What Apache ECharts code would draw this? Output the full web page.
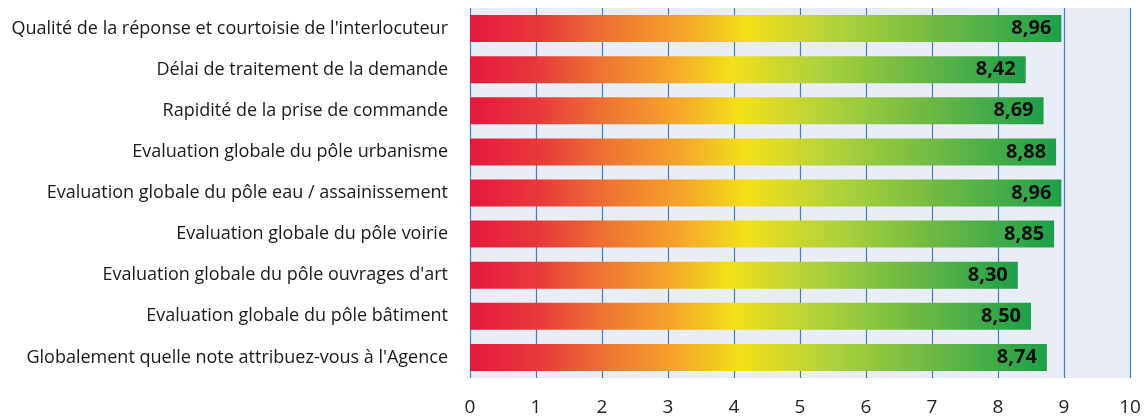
<!DOCTYPE html>
<html>
<head>
<meta charset="utf-8">
<script src="https://cdn.jsdelivr.net/npm/echarts@6/dist/echarts.min.js"></script>
<style>
  html, body { margin: 0; padding: 0; background: #fff; }
  #chart { width: 1145px; height: 418px; }
</style>
</head>
<body>
<div id="chart"></div>
<script>
// criteres, de haut en bas
const categories = [
  "Qualité de la réponse et courtoisie de l'interlocuteur",
  'Délai de traitement de la demande',
  'Rapidité de la prise de commande',
  'Evaluation globale du pôle urbanisme',
  'Evaluation globale du pôle eau / assainissement',
  'Evaluation globale du pôle voirie',
  "Evaluation globale du pôle ouvrages d'art",
  'Evaluation globale du pôle bâtiment',
  "Globalement quelle note attribuez-vous à l'Agence"
]
const notes = [8.96, 8.42, 8.69, 8.88, 8.96, 8.85, 8.30, 8.50, 8.74]

const axisMin = 0
const axisMax = 10
const axisStep = 1

// degrade rouge -> vert
const barGradient = new echarts.graphic.LinearGradient(0, 0, 1, 0, [
  { offset: 0, color: '#e5173f' },
  { offset: 0.12, color: '#e8393a' },
  { offset: 0.25, color: '#ef7a33' },
  { offset: 0.36, color: '#f5a52a' },
  { offset: 0.47, color: '#f4e01b' },
  { offset: 0.62, color: '#b2d23a' },
  { offset: 0.8, color: '#6cb944' },
  { offset: 1, color: '#1e9f4a' }
])

let chart = echarts.init(document.getElementById('chart'))

let options = {
  animation: false,
  grid: {
    left: 470,
    right: 15,
    top: 8,
    bottom: 40,
    show: true,
    backgroundColor: '#e9edf6',
    borderWidth: 0
  },
  xAxis: {
    type: 'value',
    min: axisMin,
    max: axisMax,
    interval: axisStep,
    axisLine: { show: false },
    axisTick: { show: false },
    axisLabel: {
      margin: 20,
      color: '#222',
      fontSize: 19,
      fontFamily: 'Open Sans'
    },
    splitLine: {
      lineStyle: { color: '#3f7fc8', width: 1.2 }
    }
  },
  yAxis: {
    type: 'category',
    inverse: true,
    data: categories,
    axisLine: { show: false },
    axisTick: { show: false },
    axisLabel: {
      margin: 22,
      color: '#1a1a1a',
      fontSize: 18,
      fontFamily: 'Open Sans'
    }
  },
  series: [
    {
      type: 'bar',
      data: notes,
      barWidth: 27,
      itemStyle: { color: barGradient },
      label: {
        show: true,
        position: 'insideRight',
        distance: 10,
        color: '#111',
        fontSize: 20,
        fontWeight: 'bold',
        fontFamily: 'Open Sans',
        formatter: p => p.value.toFixed(2).replace('.', ',')
      }
    }
  ]
}

chart.setOption(options)
</script>
</body>
</html>
